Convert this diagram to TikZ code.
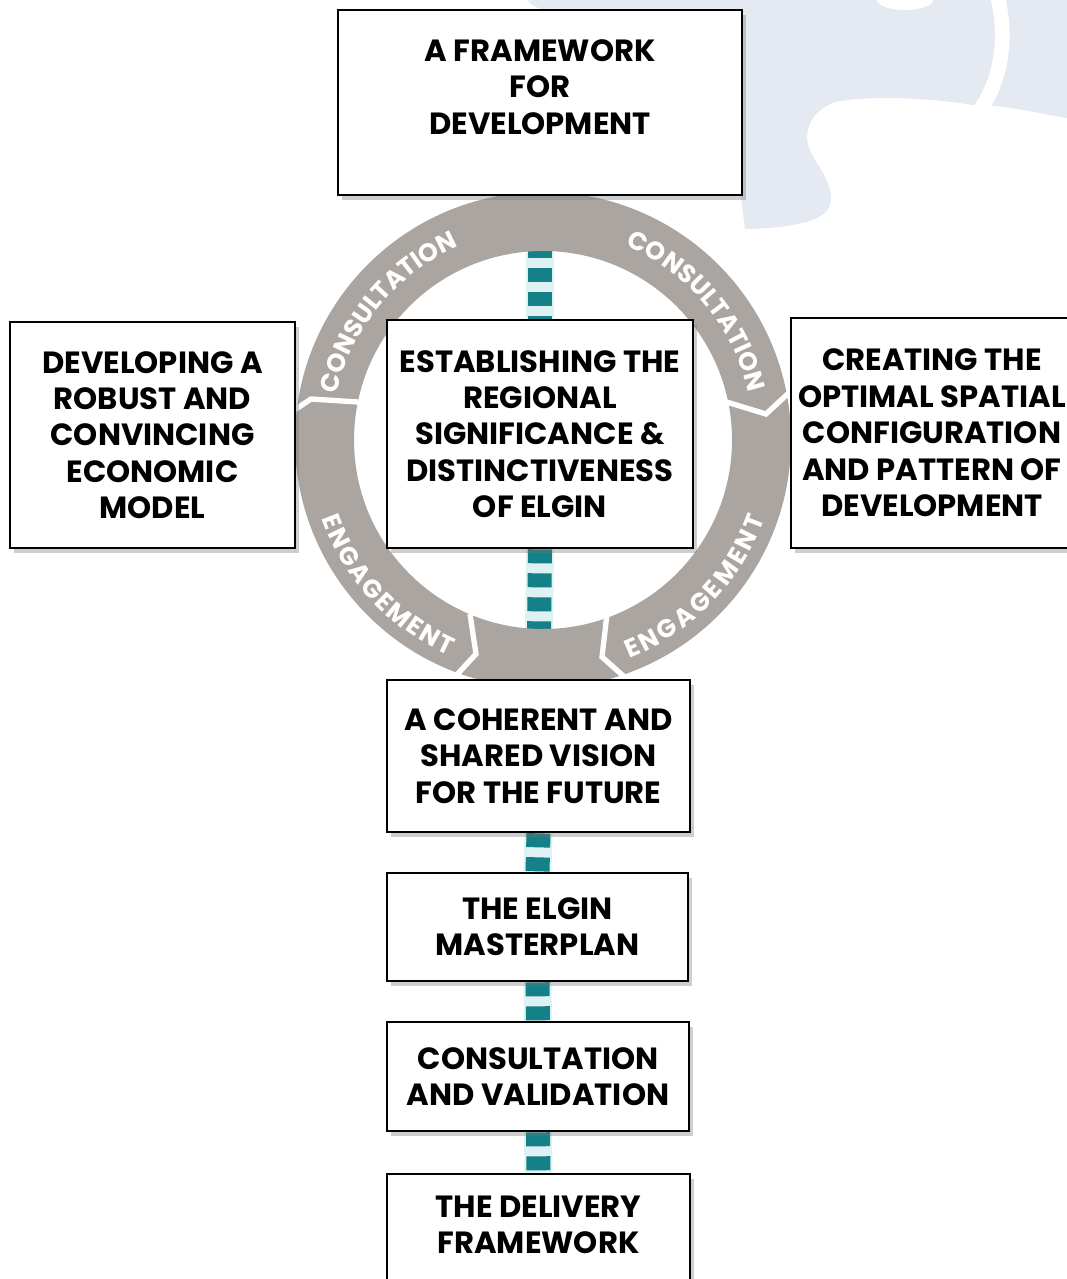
\documentclass[tikz,border=0pt]{standalone}
\usepackage{fontspec}
\setmainfont{Poppins}
\usetikzlibrary{decorations.text,shadows}
\definecolor{paleblue}{RGB}{228,233,242}
\definecolor{ringgray}{RGB}{170,165,160}
\definecolor{tealsq}{RGB}{20,128,136}
\definecolor{tealglow}{RGB}{222,242,245}
\newcommand\boxfont{\bfseries\fontsize{23pt}{27.3pt}\selectfont}
\newcommand\ringfont{\color{white}\bfseries\fontsize{19pt}{19pt}\selectfont}
\pgfdeclarelayer{back}
\pgfsetlayers{back,main}

\begin{document}
\begin{tikzpicture}[x=0.75pt,y=0.75pt,
  stagebox/.style={draw=black, line width=2pt, fill=white, align=center,
    font=\boxfont, inner sep=0pt,
    drop shadow={shadow xshift=3pt, shadow yshift=-3.5pt, fill=black!55, opacity=0.35}},
  boxtext/.style={align=center, font=\boxfont, inner sep=0pt},
  link/.style={preaction={draw=tealglow, solid, line width=21pt},
    draw=tealsq, line width=18pt, dash pattern=on 10.5pt off 7.5pt},
  gap/.style={draw=white, line width=4pt},
  ringtext/.style={decorate, decoration={text along path,
    text align={fit to path}, text={|\ringfont|#1}}}
]
\useasboundingbox (0,0) rectangle (1067,-1279);

% stages
\node[stagebox, minimum width=303pt, minimum height=138.75pt] (frame) at (540,-102.5) {};
\node[boxtext] (frametext) at (540,-87) {A FRAMEWORK\\FOR\\DEVELOPMENT};
\node[stagebox, minimum width=213.75pt, minimum height=169.5pt] (econ) at (152.5,-435)
  {DEVELOPING A\\ROBUST AND\\CONVINCING\\ECONOMIC\\MODEL};
\node[stagebox, minimum width=229.5pt, minimum height=171pt] (regional) at (540,-434)
  {ESTABLISHING THE\\REGIONAL\\SIGNIFICANCE \&\\DISTINCTIVENESS\\OF ELGIN};
\node[stagebox, minimum width=211.5pt, minimum height=172.5pt] (spatial) at (932,-433)
  {CREATING THE\\OPTIMAL SPATIAL\\CONFIGURATION\\AND PATTERN OF\\DEVELOPMENT};
\node[stagebox, minimum width=227.25pt, minimum height=114pt] (vision) at (538.5,-756)
  {A COHERENT AND\\SHARED VISION\\FOR THE FUTURE};
\node[stagebox, minimum width=225.75pt, minimum height=81pt] (masterplan) at (537.5,-927)
  {THE ELGIN\\MASTERPLAN};
\node[stagebox, minimum width=226.5pt, minimum height=81.75pt] (validation) at (538,-1076.5)
  {CONSULTATION\\AND VALIDATION};
\node[stagebox, minimum width=227.25pt, minimum height=87pt] (delivery) at (538.5,-1232) {};
\node[boxtext] (deliverytext) at (538.5,-1225) {THE DELIVERY\\FRAMEWORK};

\begin{pgfonlayer}{back}
  % pale backdrop shape
  \fill[paleblue] (528,0) -- (1067,0) -- (1067,-118)
    .. controls (1030,-112) and (1000,-104) .. (973,-105)
    .. controls (930,-98) and (870,-95) .. (835,-102)
    .. controls (808,-112) and (803,-135) .. (810,-150)
    .. controls (818,-168) and (835,-185) .. (830,-205)
    .. controls (825,-222) and (790,-228) .. (745,-229)
    -- (735,-150) -- (560,-12)
    .. controls (540,-10) and (530,-6) .. (528,0) -- cycle;
  \fill[white] (905,0) ellipse [x radius=28, y radius=10];
  \draw[white, line width=11pt] (998,2) .. controls (1006,-35) and (1004,-75) .. (980,-110);

  % links down the spine
  \draw[link] (frame.south) -- (regional.north);
  \draw[link] (regional.south) -- (vision.north);
  \draw[link] (vision.south) -- (masterplan.north);
  \draw[link] (masterplan.south) -- (validation.north);
  \draw[link] (validation.south) -- (delivery.north);

  % ring
  \coordinate (hub) at (543,-440);
  \fill[ringgray, even odd rule] (hub) circle[radius=248] (hub) circle[radius=189];
  \draw[gap] (358,-402) -- (311,-399) -- (296,-409);
  \draw[gap] (720,-400) -- (766,-414) -- (793,-389);
  \draw[gap] (470,-614) -- (476,-654) -- (451,-681);
  \draw[gap] (607,-614) -- (602,-657) -- (629,-681);

  \path[ringtext=CONSULTATION] (hub) ++(167.5:211) arc[start angle=167.5, end angle=114.5, radius=211];
  \path[ringtext=CONSULTATION] (hub) ++(67:211) arc[start angle=67, end angle=14, radius=211];
  \path[ringtext=ENGAGEMENT] (hub) ++(199.5:235) arc[start angle=199.5, end angle=246.5, radius=235];
  \path[ringtext=ENGAGEMENT] (hub) ++(291.5:235) arc[start angle=291.5, end angle=340.5, radius=235];
\end{pgfonlayer}
\end{tikzpicture}
\end{document}
